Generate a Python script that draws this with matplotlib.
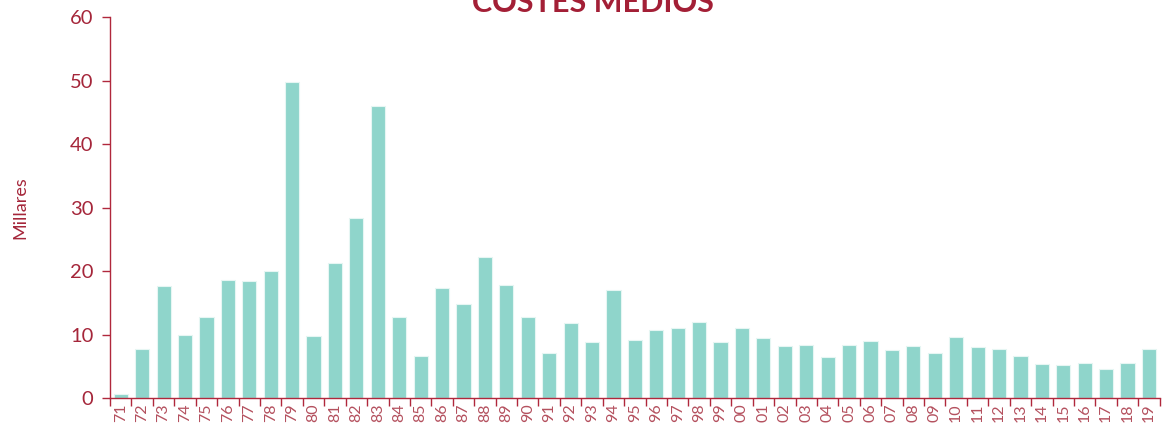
import matplotlib
matplotlib.use("Agg")
import matplotlib.pyplot as plt
import numpy as np

years = ["71","72","73","74","75","76","77","78","79","80","81","82","83","84","85","86","87","88","89","90",
         "91","92","93","94","95","96","97","98","99","00","01","02","03","04","05","06","07","08","09","10",
         "11","12","13","14","15","16","17","18","19"]
values = [0.6, 7.7, 17.6, 9.9, 12.8, 18.6, 18.4, 20.0, 49.8, 9.8,
          21.3, 28.3, 46.0, 12.8, 6.6, 17.3, 14.8, 22.2, 17.8, 12.8,
          7.1, 11.8, 8.8, 17.0, 9.1, 10.7, 11.0, 12.0, 8.8, 11.0,
          9.4, 8.2, 8.4, 6.5, 8.4, 9.0, 7.6, 8.2, 7.1, 9.6,
          8.0, 7.7, 6.6, 5.4, 5.2, 5.5, 4.6, 5.5, 7.7]
yticks = [0, 10, 20, 30, 40, 50, 60]

plt.rcParams['font.family'] = ['Lato', 'DejaVu Sans']
red = '#a5263a'
axis_red = '#b0283c'
bar_color = '#8fd5cb'

fig = plt.figure(figsize=(11.62, 4.32), dpi=100)
ax = fig.add_axes([0.0947, 0.0787, 0.9033, 0.8819])
x = np.arange(len(years))
ax.bar(x, values, width=0.66, color=bar_color, edgecolor='#e6f6f3', linewidth=0.8)
ax.set_xlim(-0.5, len(years) - 0.5)
ax.set_ylim(0, 60)
ax.set_yticks(yticks)
ax.set_yticklabels([str(v) for v in yticks], color=red, fontsize=14.5)
ax.set_xticks(x)
ax.set_xticklabels(years, rotation=90, color='#b4505e', fontsize=11.5)
ax.tick_params(axis='x', length=0, pad=4)
ax.set_xticks(np.arange(-0.5, len(years), 1), minor=True)
ax.tick_params(axis='x', which='minor', length=6, color=axis_red, width=1)
ax.tick_params(axis='y', length=6, color=axis_red, width=1, pad=6)
for s in ['top', 'right']:
    ax.spines[s].set_visible(False)
for s in ['left', 'bottom']:
    ax.spines[s].set_color(axis_red)
    ax.spines[s].set_linewidth(1)
ax.set_ylabel("Millares", color=red, fontsize=13, labelpad=30)
fig.text(0.51, 0.992, "COSTES MEDIOS", color='#a31f36', fontsize=22, fontweight='bold',
         ha='center', va='center')
fig.savefig("out.png", dpi=100)
